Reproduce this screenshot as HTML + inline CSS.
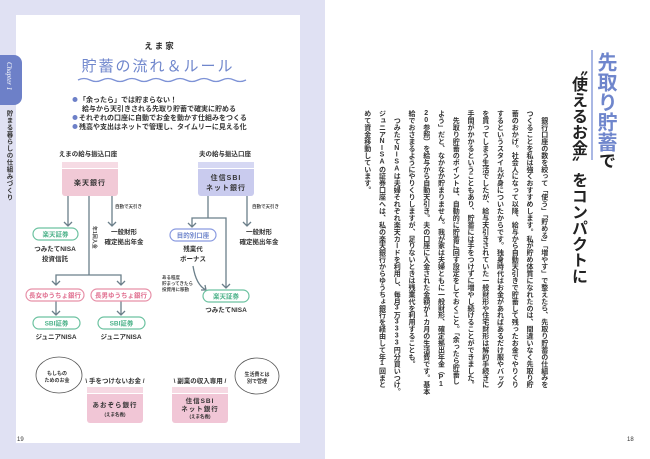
<!DOCTYPE html>
<html><head><meta charset="utf-8"><style>
body{margin:0;width:650px;height:459px;overflow:hidden;background:#fff;position:relative;font-family:"Liberation Sans","Noto Sans CJK JP",sans-serif}
svg{position:absolute;left:0;top:0}
.v{position:absolute;writing-mode:vertical-rl;white-space:nowrap;text-orientation:upright}
</style></head><body>
<svg width="650" height="459" viewBox="0 0 650 459" font-family="Liberation Sans, Noto Sans CJK JP, sans-serif">
<rect x="0" y="0" width="325" height="459" fill="#e0e1f3"/>
<rect x="16" y="15" width="284" height="428" fill="#fff"/>
<rect x="-10" y="55" width="32" height="50" rx="8" fill="#6d80c8"/>
<text x="0" y="0" transform="translate(7,62) rotate(90)" fill="#fff" font-size="7" font-style="italic" font-family="Liberation Serif, serif">Chapter 1</text>
<g font-weight="bold" fill="#333" text-anchor="middle">
<text x="160" y="49" font-size="8.5" letter-spacing="2">えま家</text>
<text x="158" y="71" font-size="15" fill="#6f86cc" font-weight="normal" letter-spacing="2">貯蓄の流れ＆ルール</text>
</g>
<path d="M78 80 q6 -3 12 0 t12 0 t12 0 t12 0 t12 0 t12 0 t12 0 t12 0 t12 0 t12 0 t12 0 t12 0 t12 0 t12 0" stroke="#7d92d6" stroke-width="1.3" fill="none"/>
<g font-size="7" fill="#333" font-weight="bold">
<circle cx="75" cy="99.5" r="2.5" fill="#6d80c8"/><text x="79" y="102">「余ったら」では貯まらない！</text>
<text x="82" y="111">給与から天引きされる先取り貯蓄で確実に貯める</text>
<circle cx="75" cy="117.5" r="2.5" fill="#6d80c8"/><text x="79" y="120">それぞれの口座に自動でお金を動かす仕組みをつくる</text>
<circle cx="75" cy="126.5" r="2.5" fill="#6d80c8"/><text x="79" y="129">残高や支出はネットで管理し、タイムリーに見える化</text>
</g>
<g font-size="6.5" fill="#333" font-weight="bold" text-anchor="middle">
<text x="88" y="156">えまの給与振込口座</text>
<text x="225" y="156">夫の給与振込口座</text>
</g>
<rect x="62" y="162" width="56" height="34" rx="3" fill="#f1c9d6"/>
<rect x="62" y="162" width="56" height="6" fill="#f6dbe4"/><line x1="62" y1="168.5" x2="118" y2="168.5" stroke="#fff"/>
<rect x="198" y="162" width="56" height="34" rx="3" fill="#c9cbee"/>
<rect x="198" y="162" width="56" height="6" fill="#d6d8f3"/><line x1="198" y1="168.5" x2="254" y2="168.5" stroke="#fff"/>
<g font-size="7" fill="#333" font-weight="bold" text-anchor="middle" letter-spacing="1">
<text x="90" y="185">楽天銀行</text>
<text x="226" y="180">住信SBI</text><text x="226" y="190">ネット銀行</text>
</g>
<g stroke="#6b7f8a" stroke-width="1.3" fill="none">
<path d="M68 196V226M64 222l4 4 4-4"/>
<path d="M89 196V275M56 285V275H121V285M52 281l4 4 4-4M117 281l4 4 4-4"/>
<path d="M112 196V226M108 222l4 4 4-4"/>
<path d="M208 196V218M192 227V218H226V288M188 223l4 4 4-4M222 284l4 4 4-4"/>
<path d="M247 196V226M243 222l4 4 4-4"/>
<path d="M56 301V315M121 301V315M52 311l4 4 4-4M117 311l4 4 4-4"/>
<path d="M193 266Q196 285 206 290M201 290l5 0 -1-5"/>
</g>
<g font-size="4.5" fill="#444" font-weight="bold">
<text x="115" y="208">自動で天引き</text><text x="252" y="208">自動で天引き</text>
<text x="162" y="279">ある程度</text><text x="162" y="285">貯まってきたら</text><text x="162" y="291">投資用に移動</text>
</g>
<text x="0" y="0" transform="translate(93,226) rotate(90)" font-size="5" fill="#444" font-weight="bold">年1回入金</text>
<g fill="#fff" stroke-width="1.2">
<rect x="33" y="228" width="45" height="12" rx="6" stroke="#6cc2a0"/>
<rect x="170" y="229" width="46" height="12" rx="6" stroke="#8a9be0"/>
<rect x="203" y="290" width="46" height="12" rx="6" stroke="#6cc2a0"/>
<rect x="26" y="289" width="58" height="12" rx="6" stroke="#e790a8"/>
<rect x="91" y="289" width="60" height="12" rx="6" stroke="#e790a8"/>
<rect x="33" y="317" width="47" height="12" rx="6" stroke="#6cc2a0"/>
<rect x="98" y="317" width="47" height="12" rx="6" stroke="#6cc2a0"/>
</g>
<g font-size="6.5" font-weight="bold" text-anchor="middle">
<text x="55.5" y="236.5" fill="#4fb38b">楽天証券</text>
<text x="193" y="237.5" fill="#6f86cc">目的別口座</text>
<text x="226" y="298.5" fill="#4fb38b">楽天証券</text>
<text x="55" y="297.5" fill="#e06f90">長女ゆうちょ銀行</text>
<text x="121" y="297.5" fill="#e06f90">長男ゆうちょ銀行</text>
<text x="56.5" y="325.5" fill="#4fb38b">SBI証券</text>
<text x="121.5" y="325.5" fill="#4fb38b">SBI証券</text>
</g>
<g font-size="6.5" font-weight="bold" fill="#333" text-anchor="middle">
<text x="55" y="251">つみたてNISA</text><text x="55" y="261">投資信託</text>
<text x="124" y="234">一般財形</text><text x="124" y="244">確定拠出年金</text>
<text x="193" y="251">残業代</text><text x="193" y="261">ボーナス</text>
<text x="259" y="234">一般財形</text><text x="259" y="244">確定拠出年金</text>
<text x="226" y="312">つみたてNISA</text>
<text x="56" y="339">ジュニアNISA</text><text x="121" y="339">ジュニアNISA</text>
</g>
<g fill="#fff" stroke="#555" stroke-width="0.8">
<ellipse cx="59" cy="375" rx="23" ry="18"/>
<ellipse cx="257" cy="376" rx="22" ry="18"/>
</g>
<g font-size="5" font-weight="bold" fill="#333" text-anchor="middle">
<text x="57" y="375">もしもの</text><text x="57" y="382">ためのお金</text>
<text x="257" y="376">生活費とは</text><text x="257" y="383">別で管理</text>
</g>
<rect x="87" y="387" width="56" height="36" rx="3" fill="#f1c6d6"/>
<rect x="87" y="387" width="56" height="6" fill="#f6d9e3"/><line x1="87" y1="393.5" x2="143" y2="393.5" stroke="#fff"/>
<rect x="172" y="387" width="56" height="36" rx="3" fill="#f1c6d6"/>
<rect x="172" y="387" width="56" height="6" fill="#f6d9e3"/><line x1="172" y1="393.5" x2="228" y2="393.5" stroke="#fff"/>
<g font-size="6.5" font-weight="bold" fill="#333" text-anchor="middle">
<text x="115" y="383">\ 手をつけないお金 /</text>
<text x="200" y="383">\ 副業の収入専用 /</text>
<text x="115" y="407" letter-spacing="1">あおぞら銀行</text>
<text x="200" y="403" letter-spacing="1">住信SBI</text>
<text x="200" y="411" letter-spacing="1">ネット銀行</text>
<text x="115" y="416" font-size="4.5">(えま名義)</text>
<text x="200" y="418" font-size="4.5">(えま名義)</text>
</g>
<text x="17" y="441" font-size="6" fill="#333">19</text>
<text x="627" y="441" font-size="6" fill="#333">18</text>
<line x1="592" y1="50" x2="592" y2="160" stroke="#7d92d6" stroke-width="1.3"/>
</svg>
<div class="v" style="left:3px;top:110px;font-size:6.5px;font-weight:bold;color:#333;letter-spacing:0.5px">貯まる暮らしの仕組みづくり</div>
<div class="v" style="left:595px;top:52px;font-size:20px;line-height:20px;color:#6f86cc;font-weight:bold">先取り貯蓄<span style="color:#222;font-size:17px">で</span></div>
<div class="v" style="left:568px;top:60px;font-size:16px;line-height:18px;color:#222;font-weight:bold">〝使えるお金〟をコンパクトに</div>
<div class="v" style="left:359px;top:110px;height:285px;font-size:7px;line-height:14.75px;color:#333;font-weight:bold;letter-spacing:-0.05px">　銀行口座の数を絞って「使う」「貯める」「増やす」で整えたら、先取り貯蓄の仕組みを<br>つくることを私は強くおすすめします。私が貯め体質になれたのは、間違いなく先取り貯<br>蓄のおかげ。社会人になって以降、給与から自動天引きで貯蓄して残ったお金でやりくり<br>するというスタイルが身についたからです。独身時代はお金があればあるだけ服やバッグ<br>を買ってしまう生活でしたが、給与天引きされていた一般財形や住宅財形は解約手続きに<br>手間がかかるということもあり、貯蓄には手をつけずに増やし続けることができました。<br>　先取り貯蓄のポイントは、自動的に貯蓄に回す設定をしておくこと。「余ったら貯蓄し<br>よう」だと、なかなか貯まりません。我が家は夫婦ともに一般財形、確定拠出年金（P1<br>20参照）を給与から自動天引き。夫の口座に入金された金額が1カ月の生活費です。基本<br>給でおさまるようにやりくりしますが、足りないときは残業代を利用することも。<br>　つみたてNISAは夫婦それぞれ楽天カードを利用し、毎月3万3333円分買いつけ。<br>ジュニアNISAの証券口座へは、私の楽天銀行からゆうちょ銀行を経由して年1回まと<br>めて資金移動しています。</div>
</body></html>
